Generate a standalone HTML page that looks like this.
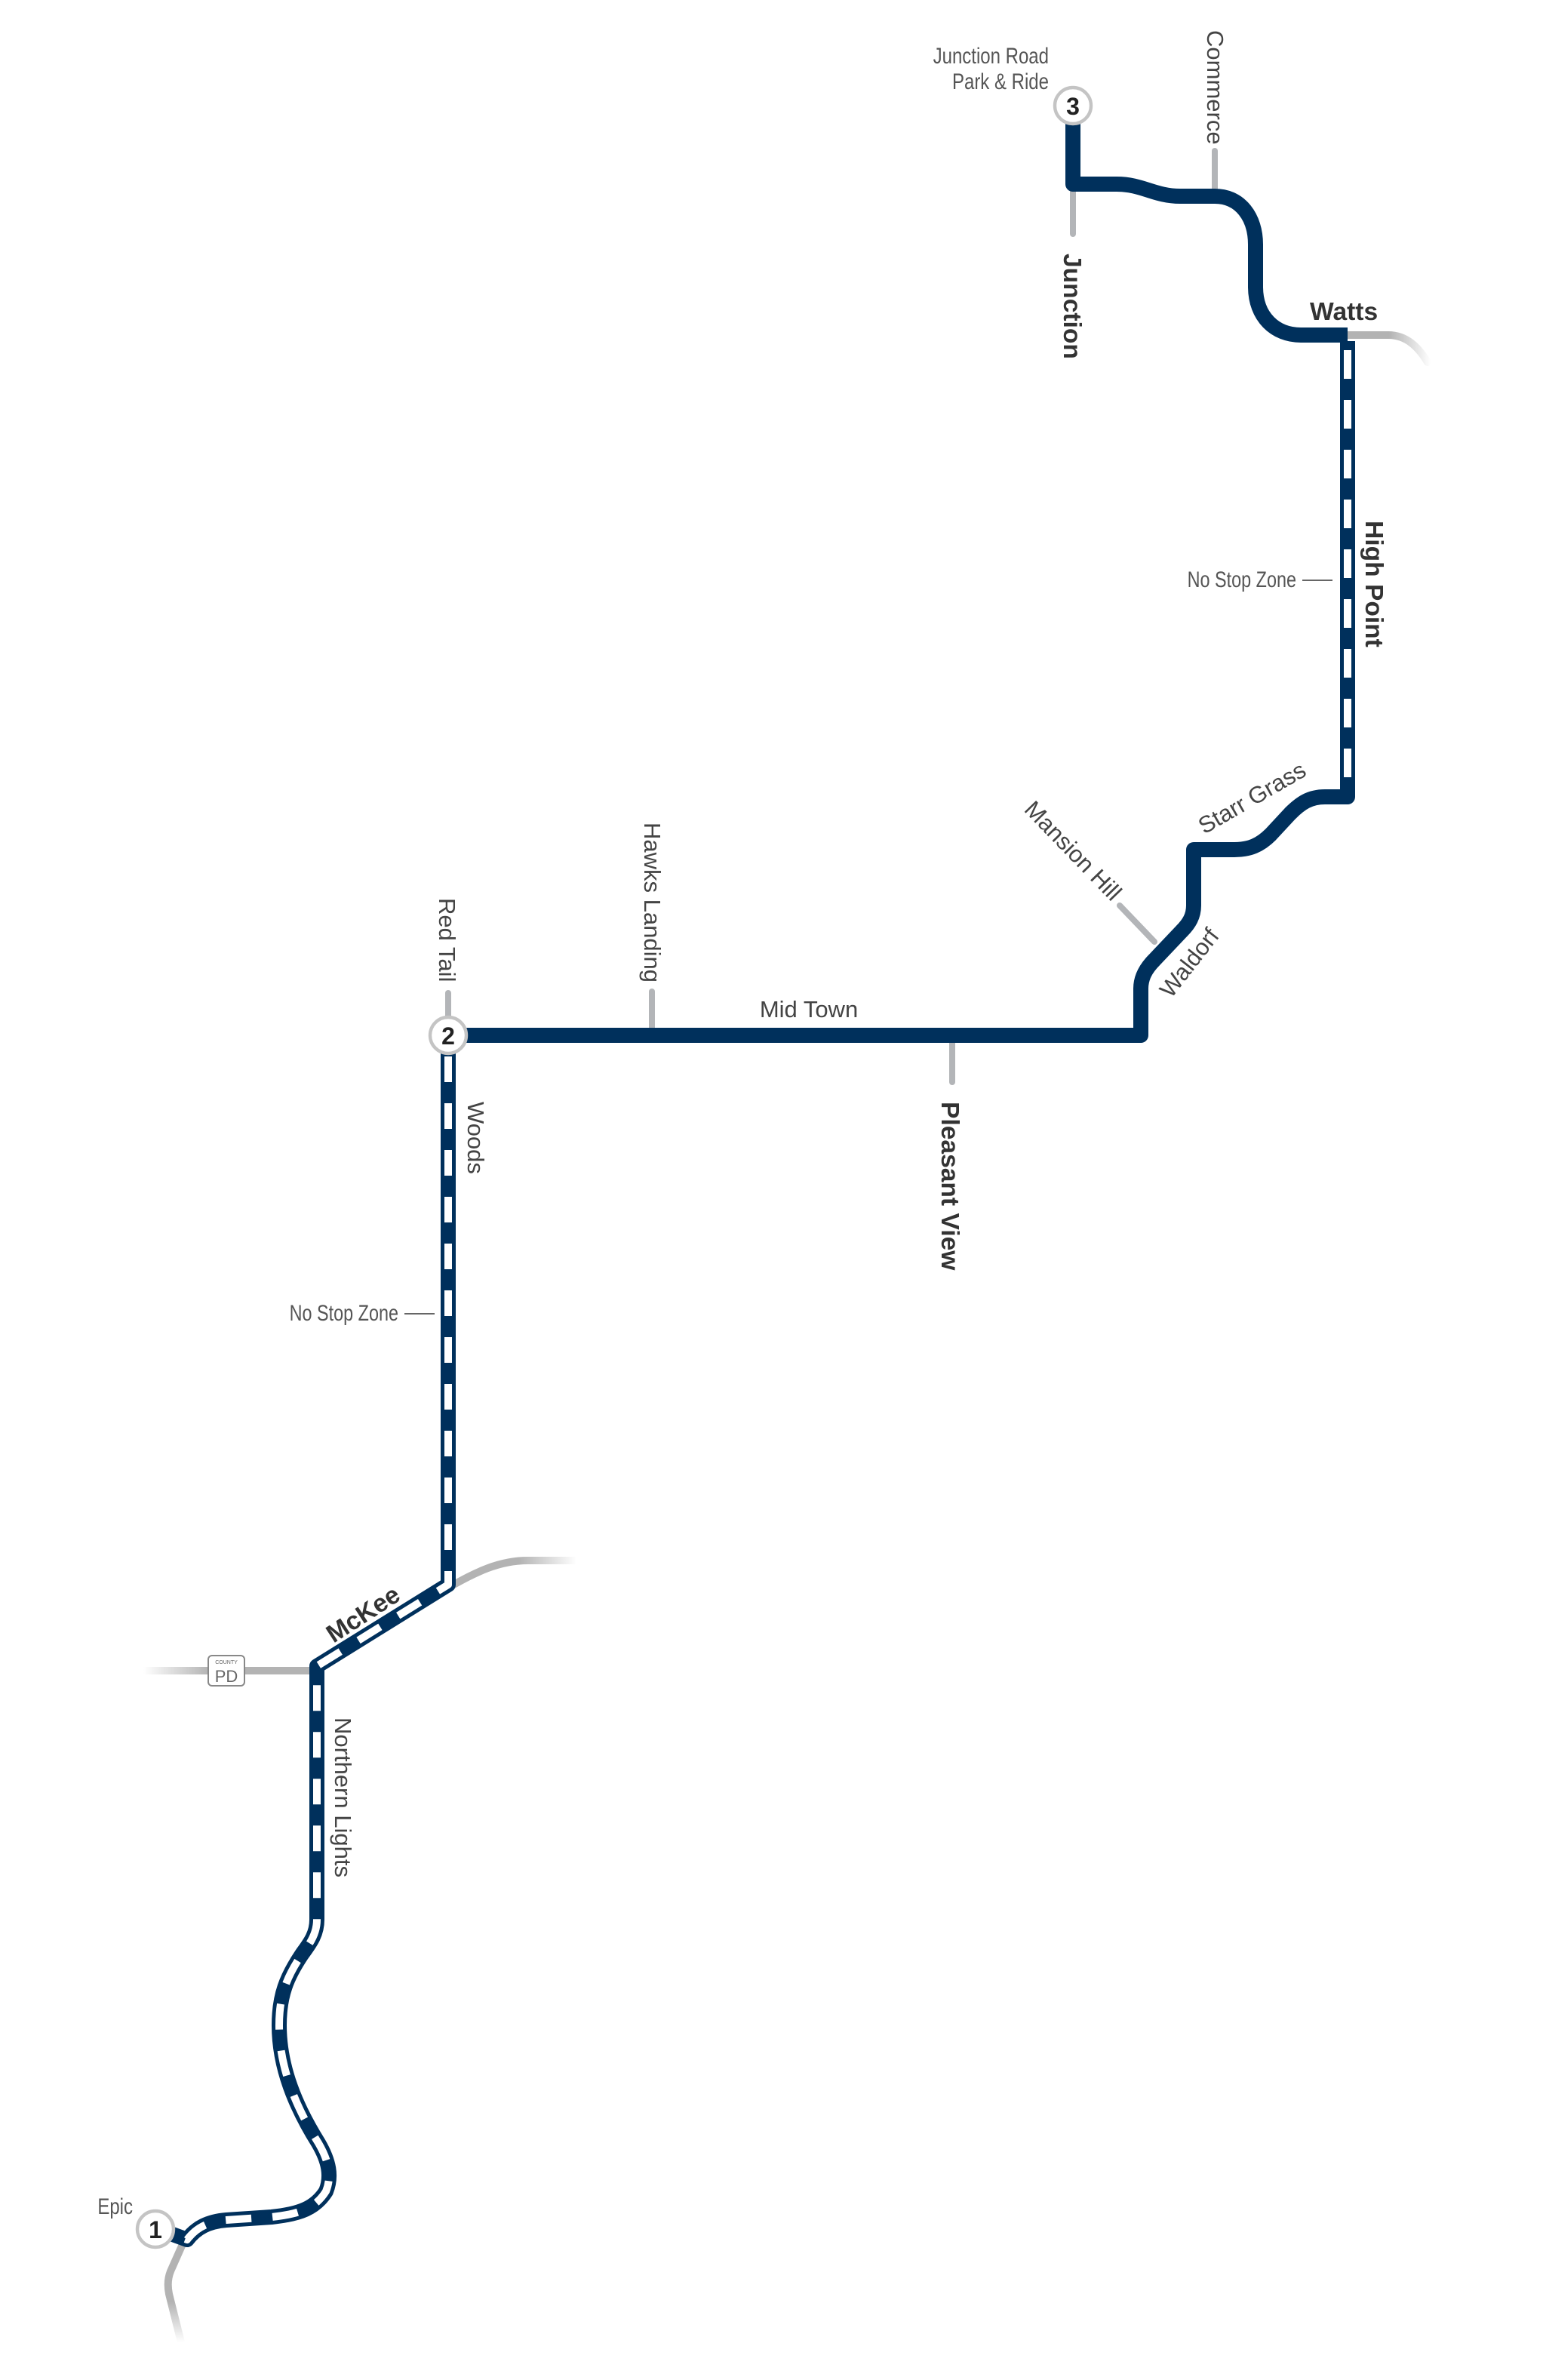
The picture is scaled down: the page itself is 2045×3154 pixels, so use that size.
<!DOCTYPE html>
<html><head><meta charset="utf-8">
<style>
html,body{margin:0;padding:0;background:#fff;}
svg{display:block;}
text{font-family:"Liberation Sans",sans-serif;fill:#444;}
.n{font-size:15.5px;}
.c{font-size:15px;fill:#555;}
.b{font-size:16.8px;font-weight:bold;fill:#333;}
</style></head>
<body>
<svg width="2045" height="3154" viewBox="0 0 1022.5 1577" xmlns="http://www.w3.org/2000/svg">
<defs>
<linearGradient id="gW" x1="893" y1="0" x2="948" y2="0" gradientUnits="userSpaceOnUse">
<stop offset="0.5" stop-color="#b3b3b3"/><stop offset="1" stop-color="#b3b3b3" stop-opacity="0"/></linearGradient>
<linearGradient id="gM" x1="297" y1="0" x2="382" y2="0" gradientUnits="userSpaceOnUse">
<stop offset="0.55" stop-color="#b3b3b3"/><stop offset="1" stop-color="#b3b3b3" stop-opacity="0"/></linearGradient>
<linearGradient id="gP" x1="95" y1="0" x2="205" y2="0" gradientUnits="userSpaceOnUse">
<stop offset="0" stop-color="#b3b3b3" stop-opacity="0"/><stop offset="0.4" stop-color="#b3b3b3"/></linearGradient>
<linearGradient id="gE" x1="0" y1="1485" x2="0" y2="1552" gradientUnits="userSpaceOnUse">
<stop offset="0.6" stop-color="#b3b3b3"/><stop offset="1" stop-color="#b3b3b3" stop-opacity="0"/></linearGradient>
</defs>

<g fill="none" stroke-linecap="round" stroke-width="5">
<path d="M893,222 H920 C932,222 940,230 946,240" stroke="url(#gW)"/>
<path d="M297,1052 C315,1042 330,1034 350,1034 H382" stroke="url(#gM)"/>
<path d="M95,1107 H207" stroke="url(#gP)" stroke-linecap="butt"/>
<path d="M121,1487 L113,1505 C111,1510 111,1515 112,1520 L120,1552" stroke="url(#gE)" stroke-linecap="butt"/>
</g>
<g stroke="#b3b5b8" stroke-width="4" stroke-linecap="round" fill="none">
<line x1="711" y1="122" x2="711" y2="155"/>
<line x1="805" y1="100" x2="805" y2="128"/>
<line x1="297" y1="658" x2="297" y2="676"/>
<line x1="432" y1="657" x2="432" y2="686"/>
<line x1="631" y1="686" x2="631" y2="717"/>
<line x1="742" y1="600" x2="765" y2="624"/>
</g>

<g fill="none" stroke="#00305c" stroke-width="10" stroke-linejoin="round">
<path d="M711,80 V122 H740 C757,122 765,130 782,130 H805 C822,130 832,144 832,162 V190 C832,210 845,222 862,222 H893"/>
<path d="M893,226 V528 H878 C868,528 862,532 855,539 L842,553 C835,560 828,563 818,563 H791 V600 C791,607 788,612 783,617 L765,636 C759,642 756,648 756,655 V686 H303"/>
</g>
<path d="M893,232 V520" fill="none" stroke="#fff" stroke-width="5" stroke-dasharray="19 14"/>

<g fill="none" stroke-linejoin="round">
<path d="M297,690 V1050 L210,1104 V1272 C210,1282 205,1288 200,1295 C190,1310 185,1322 185,1342 C185,1370 196,1396 211,1420 C218,1432 220,1442 216,1452 C209,1463 199,1467 180,1469 L150,1471 C138,1472 130,1476 124,1484 L113,1480" stroke="#00305c" stroke-width="10"/>
<path d="M297,700 V1050 L210,1104 V1272 C210,1282 205,1288 200,1295 C190,1310 185,1322 185,1342 C185,1370 196,1396 211,1420 C218,1432 220,1442 216,1452 C209,1463 199,1467 180,1469 L150,1471 C138,1472 130,1476 124,1484 L113,1480" stroke="#fff" stroke-width="5" stroke-dasharray="17 14"/>
</g>

<g fill="#fff" stroke="#c4c4c4" stroke-width="2.2">
<circle cx="711" cy="70" r="12"/>
<circle cx="297" cy="686" r="12"/>
<circle cx="103" cy="1477" r="12"/>
</g>
<g font-weight="bold" font-size="16" text-anchor="middle">
<text x="711" y="76" style="fill:#222">3</text>
<text x="297" y="692" style="fill:#222">2</text>
<text x="103" y="1483" style="fill:#222">1</text>
</g>

<rect x="138" y="1097" width="24" height="20" rx="2.5" fill="#fff" stroke="#888" stroke-width="1"/>
<text x="150" y="1102.5" text-anchor="middle" font-size="3.5" style="fill:#666">COUNTY</text>
<text x="150" y="1114.5" text-anchor="middle" font-size="11" style="fill:#666">PD</text>

<text class="c" x="695" y="42" text-anchor="end" transform="translate(695 0) scale(0.8 1) translate(-695 0)">Junction Road</text>
<text class="c" x="695" y="59" text-anchor="end" transform="translate(695 0) scale(0.8 1) translate(-695 0)">Park &amp; Ride</text>
<text class="n" transform="translate(800 20) rotate(90)">Commerce</text>
<text class="b" transform="translate(705 168) rotate(90)">Junction</text>
<text class="b" x="868" y="212">Watts</text>
<text class="b" transform="translate(905 345) rotate(90)">High Point</text>
<text class="c" x="859" y="389" text-anchor="end" transform="translate(859 0) scale(0.78 1) translate(-859 0)">No Stop Zone</text>
<line x1="863" y1="384.5" x2="883" y2="384.5" stroke="#666" stroke-width="1"/>
<text class="n" transform="translate(798 553) rotate(-30)">Starr Grass</text>
<text class="n" transform="translate(678 537) rotate(46)">Mansion Hill</text>
<text class="n" transform="translate(776 662) rotate(-52)">Waldorf</text>
<text class="n" x="536" y="674" text-anchor="middle">Mid Town</text>
<text class="n" transform="translate(427 545) rotate(90)">Hawks Landing</text>
<text class="n" transform="translate(291 595) rotate(90)">Red Tail</text>
<text class="b" transform="translate(624 730) rotate(90)">Pleasant View</text>
<text class="n" transform="translate(310 730) rotate(90)">Woods</text>
<text class="c" x="264" y="875" text-anchor="end" transform="translate(264 0) scale(0.78 1) translate(-264 0)">No Stop Zone</text>
<line x1="268" y1="870.5" x2="288" y2="870.5" stroke="#666" stroke-width="1"/>
<text class="b" transform="translate(221 1089) rotate(-33)">McKee</text>
<text class="n" transform="translate(222 1138) rotate(90)">Northern Lights</text>
<text class="c" x="88" y="1467" text-anchor="end" transform="translate(88 0) scale(0.8 1) translate(-88 0)">Epic</text>
</svg>
</body></html>
